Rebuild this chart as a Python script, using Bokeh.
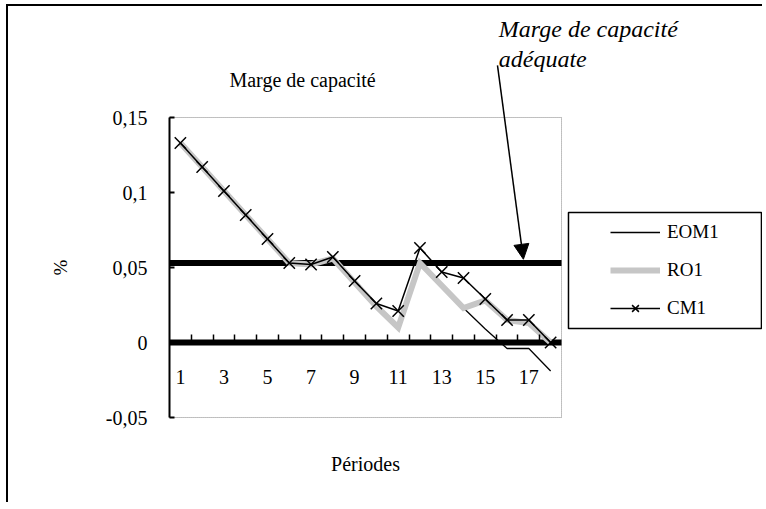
import math
from bokeh.plotting import figure
from bokeh.models import (Range1d, LinearAxis, FixedTicker, Label, Arrow,
                          NormalHead, Legend, LegendItem, BoxAnnotation)
from bokeh.embed import file_html
from bokeh.resources import INLINE

# ---- data ----
periods = list(range(1, 19))
eom1 = [0.133, 0.117, 0.101, 0.085, 0.069, 0.053, 0.052, 0.056, 0.040, 0.024,
        0.010, 0.053, 0.038, 0.023, 0.009, -0.004, -0.004, -0.019]
ro1 = [0.133, 0.117, 0.101, 0.085, 0.069, 0.053, 0.052, 0.056, 0.040, 0.024,
       0.010, 0.053, 0.038, 0.023, 0.028, 0.015, 0.013, 0.0]
cm1 = [0.133, 0.117, 0.101, 0.085, 0.069, 0.053, 0.052, 0.057, 0.041, 0.026,
       0.021, 0.063, 0.047, 0.043, 0.029, 0.015, 0.015, 0.0]
adequate_margin = 0.053
zero_level = 0.0
x_label_periods = [1, 3, 5, 7, 9, 11, 13, 15, 17]
x_tick_labels = ["1", "3", "5", "7", "9", "11", "13", "15", "17"]
y_ticks = [-0.05, 0.0, 0.05, 0.1, 0.15]
y_tick_labels = ["-0,05", "0", "0,05", "0,1", "0,15"]
title_text = "Marge de capacité"
note_lines = ["Marge de capacité", "adéquate"]
x_title = "Périodes"
y_title = "%"

FONT = "Liberation Serif"
W, H = 756, 498
x_min, x_max = periods[0] - 0.5, periods[-1] + 0.5
y_min, y_max = y_ticks[0], y_ticks[-1]

p = figure(width=W, height=H, output_backend="svg", toolbar_location=None,
           title=None,
           x_range=Range1d(-6.892, 27.82), y_range=Range1d(-0.108, 0.224),
           x_axis_location=None, y_axis_location=None,
           min_border_left=0, min_border_top=0,
           min_border_right=0, min_border_bottom=0)
p.styles = {"border-left": "2px solid black", "border-top": "2px solid black",
            "margin-left": "6px", "margin-top": "4px"}
p.xgrid.visible = False
p.ygrid.visible = False
p.outline_line_color = None
p.background_fill_color = "white"
p.border_fill_color = "white"

# plot-area box (dotted grey)
p.quad(left=[x_min], right=[x_max], bottom=[y_min], top=[y_max],
       fill_color=None, line_color="#808080", line_width=1, line_dash="1 1")

# reference levels (thick black lines across the plot area)
for lvl in (adequate_margin, zero_level):
    p.segment(x0=[x_min], x1=[x_max], y0=[lvl], y1=[lvl],
              line_color="black", line_width=6)

# y axis at the left edge of the plot area
ya = LinearAxis(fixed_location=x_min, bounds=(y_min, y_max),
                ticker=FixedTicker(ticks=y_ticks),
                major_label_overrides={t: l for t, l in zip(y_ticks, y_tick_labels)},
                axis_line_color="black", axis_line_width=2,
                major_tick_in=5, major_tick_out=0, major_tick_line_width=2,
                major_tick_line_color="black",
                minor_tick_line_color=None, major_label_standoff=22,
                major_label_text_font=FONT, major_label_text_font_size="20px",
                major_label_text_color="black")
p.add_layout(ya, "left")

# tick marks between periods, rising from the zero line
xt = LinearAxis(ticker=FixedTicker(ticks=[v + 0.5 for v in periods[:-1]]),
                fixed_location=zero_level, axis_line_color=None,
                major_tick_line_color="black", major_tick_line_width=1.5,
                major_tick_in=0, major_tick_out=8,
                minor_tick_line_color=None,
                major_label_text_color=None)
p.add_layout(xt, "above")

# period labels below the zero line
xa = LinearAxis(ticker=FixedTicker(ticks=x_label_periods),
                fixed_location=zero_level, axis_line_color=None,
                major_tick_line_color=None, minor_tick_line_color=None,
                major_label_overrides={t: l for t, l in zip(x_label_periods, x_tick_labels)},
                major_label_standoff=21, major_label_text_font=FONT,
                major_label_text_font_size="20px", major_label_text_color="black")
p.add_layout(xa, "below")

# axis titles
p.add_layout(Label(x=(x_min + x_max) / 2, y=-0.0807, text=x_title, text_align="center",
                   text_baseline="middle", text_font=FONT, text_font_size="20px",
                   text_color="black"))
p.add_layout(Label(x=-4.5, y=(y_min + y_max) / 2, text=y_title, text_align="center",
                   text_baseline="middle", angle=math.pi / 2, text_font=FONT,
                   text_font_size="19px", text_color="black"))

# series
r_eom = p.line(periods, eom1, line_color="black", line_width=1.3)
r_ro = p.line(periods, ro1, line_color="#c6c6c6", line_width=6, line_join="miter")
r_cm = p.line(periods, cm1, line_color="black", line_width=1.5)
r_cmx = p.scatter(periods, cm1, marker="x", size=16, line_color="black", line_width=1.5)

legend = Legend(items=[LegendItem(label="EOM1", renderers=[r_eom]),
                       LegendItem(label="RO1", renderers=[r_ro]),
                       LegendItem(label="CM1", renderers=[r_cm, r_cmx])],
                location=(602, 184), padding=0, spacing=14, glyph_height=24,
                glyph_width=50, label_height=24, label_standoff=7,
                border_line_color=None, background_fill_alpha=0,
                label_text_font=FONT, label_text_font_size="19px",
                label_text_color="black")
p.add_layout(legend, "center")
p.add_layout(BoxAnnotation(left=18.82, right=27.68, bottom=0.0093, top=0.0867,
                           fill_alpha=0, line_color="black", line_alpha=1,
                           line_width=1.5))

# title and annotation
p.add_layout(Label(x=6.61, y=0.1747, text=title_text, text_align="center",
                   text_baseline="middle", text_font=FONT, text_font_size="20px",
                   text_color="black"))
p.add_layout(Label(x=15.62, y=0.2093, text=note_lines[0], text_baseline="middle",
                   text_font=FONT, text_font_size="24px", text_font_style="italic",
                   text_color="black"))
p.add_layout(Label(x=15.62, y=0.1893, text=note_lines[1], text_baseline="middle",
                   text_font=FONT, text_font_size="24px", text_font_style="italic",
                   text_color="black"))
p.add_layout(Arrow(end=NormalHead(size=15, fill_color="black", line_color="black"),
                   x_start=15.56, y_start=0.1847, x_end=16.75, y_end=0.0555,
                   line_color="black", line_width=1.5))

open("out.html", "w").write(file_html(p, INLINE))
